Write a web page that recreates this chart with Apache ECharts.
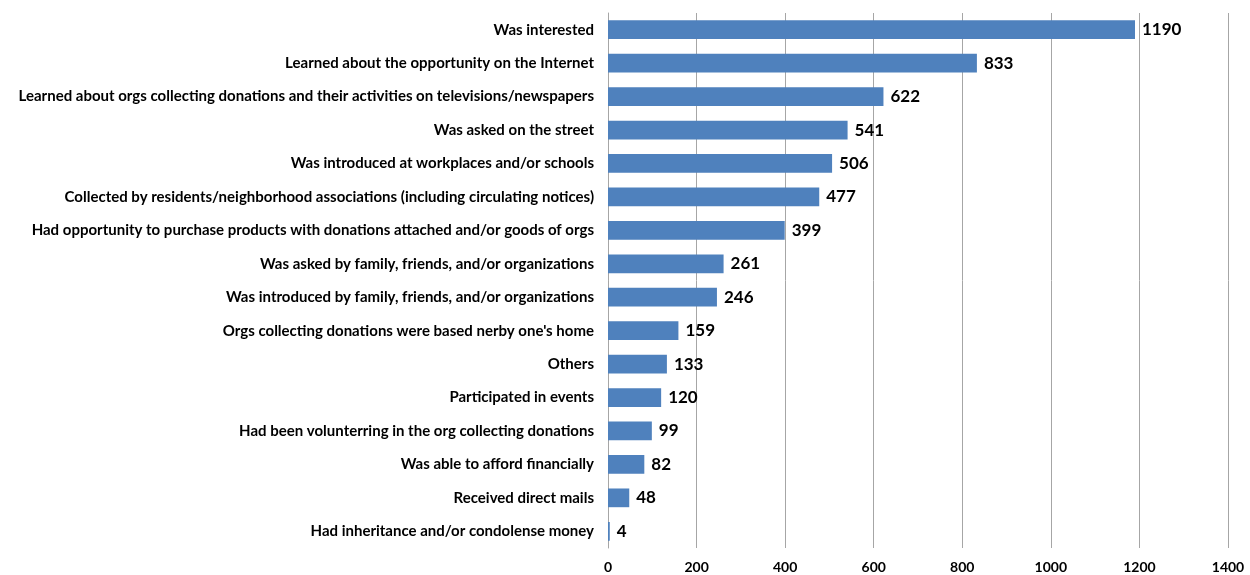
<!DOCTYPE html>
<html>
<head>
<meta charset="utf-8">
<script src="https://cdn.jsdelivr.net/npm/echarts@6/dist/echarts.min.js"></script>
<style>
  html, body { margin: 0; padding: 0; background: #fff; }
  #chart { width: 1250px; height: 575px; }
</style>
</head>
<body>
<div id="chart"></div>
<script>
// Reasons for donating, listed top to bottom
const categories = [
  "Was interested",
  "Learned about the opportunity on the Internet",
  "Learned about orgs collecting donations and their activities on televisions/newspapers",
  "Was asked on the street",
  "Was introduced at workplaces and/or schools",
  "Collected by residents/neighborhood associations (including circulating notices)",
  "Had opportunity to purchase products with donations attached and/or goods of orgs",
  "Was asked by family, friends, and/or organizations",
  "Was introduced by family, friends, and/or organizations",
  "Orgs collecting donations were based nerby one's home",
  "Others",
  "Participated in events",
  "Had been volunterring in the org collecting donations",
  "Was able to afford financially",
  "Received direct mails",
  "Had inheritance and/or condolense money"
];
const counts = [1190, 833, 622, 541, 506, 477, 399, 261, 246, 159, 133, 120, 99, 82, 48, 4];
const xTicks = { min: 0, max: 1400, interval: 200 };

const chart = echarts.init(document.getElementById('chart'), null, { renderer: 'canvas' });
const fontFamily = 'Lato, "Open Sans", sans-serif';

chart.setOption({
  animation: false,
  grid: { left: 608, right: 22, top: 13, bottom: 27, containLabel: false },
  xAxis: {
    type: 'value',
    min: xTicks.min,
    max: xTicks.max,
    interval: xTicks.interval,
    axisLine: { show: false },
    axisTick: { show: false },
    splitLine: { show: true, lineStyle: { color: '#A6A6A6', width: 1 } },
    axisLabel: {
      color: '#000', fontWeight: 'bold', fontSize: 14, fontFamily, margin: 12,
      formatter: v => String(v)
    }
  },
  yAxis: {
    type: 'category',
    inverse: true,
    data: categories,
    axisLine: { show: true, lineStyle: { color: '#A6A6A6', width: 1 } },
    axisTick: { show: false },
    axisLabel: { color: '#000', fontWeight: 'bold', fontSize: 15, fontFamily, margin: 14 }
  },
  series: [{
    type: 'bar',
    data: counts,
    barWidth: '56%',
    itemStyle: { color: '#4F81BD' },
    label: {
      show: true,
      position: 'right',
      distance: 7,
      color: '#000',
      fontWeight: 'bold',
      fontSize: 17,
      fontFamily
    }
  }]
});
</script>
</body>
</html>
